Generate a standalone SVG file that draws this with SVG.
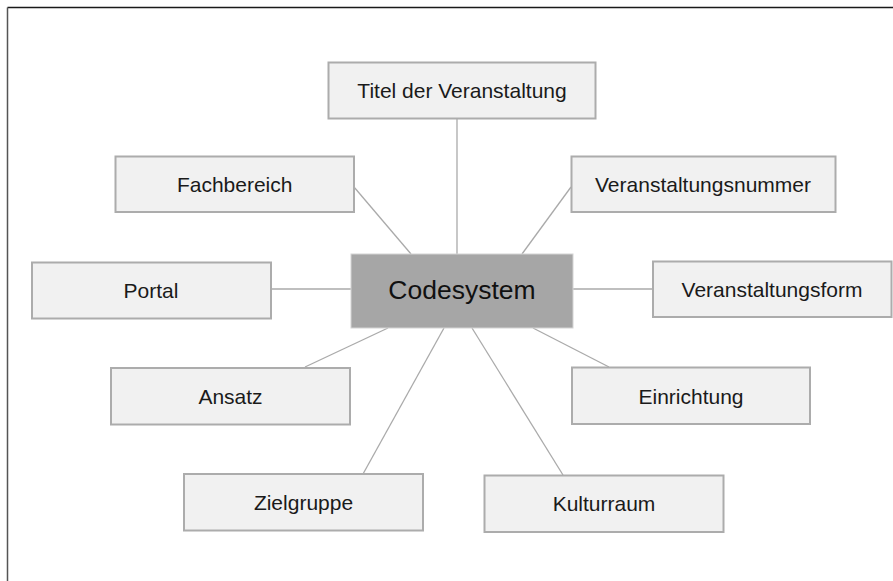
<svg xmlns="http://www.w3.org/2000/svg" width="893" height="581" viewBox="0 0 893 581">
<style>
.box{fill:#f1f1f1;stroke:#acacac;stroke-width:2}
.hub{fill:#a6a6a6;stroke:#d4d4d4;stroke-width:1}
.lbl{font-family:"Liberation Sans",Arial,sans-serif;font-size:21px;fill:#1a1a1a;text-anchor:middle}
.hubl{font-family:"Liberation Sans",Arial,sans-serif;font-size:26.5px;fill:#111;text-anchor:middle}
.con line{stroke:#aaaaaa;stroke-width:1.3}
</style>
<rect width="893" height="581" fill="#ffffff"/>
<line x1="7.5" y1="7.5" x2="893" y2="7.5" stroke="#1a1a1a" stroke-width="1.5"/>
<line x1="7.5" y1="7.5" x2="7.5" y2="581" stroke="#555555" stroke-width="1.5"/>
<g id="connectors" class="con">
<line x1="457" y1="118" x2="457" y2="254"/>
<line x1="354" y1="187" x2="411" y2="254"/>
<line x1="571" y1="187" x2="522" y2="254"/>
<line x1="271" y1="289" x2="351" y2="289"/>
<line x1="573" y1="289" x2="653" y2="289"/>
<line x1="388" y1="328" x2="305" y2="367"/>
<line x1="533" y1="328" x2="609" y2="367"/>
<line x1="444" y1="328" x2="363" y2="474"/>
<line x1="472" y1="328" x2="563" y2="475"/>
</g>
<g id="codesystem">
<rect class="hub" x="351" y="254" width="222" height="74"/>
<text class="hubl" x="462" y="299">Codesystem</text>
</g>
<g id="titel">
<rect class="box" x="328.5" y="62.5" width="267" height="56"/>
<text class="lbl" x="462" y="98">Titel der Veranstaltung</text>
</g>
<g id="fachbereich">
<rect class="box" x="115.5" y="156.5" width="238.5" height="55.5"/>
<text class="lbl" x="234.7" y="192">Fachbereich</text>
</g>
<g id="veranstaltungsnummer">
<rect class="box" x="571.5" y="156.5" width="264" height="55.5"/>
<text class="lbl" x="703" y="192">Veranstaltungsnummer</text>
</g>
<g id="portal">
<rect class="box" x="32" y="262.5" width="239" height="56"/>
<text class="lbl" x="151" y="298">Portal</text>
</g>
<g id="veranstaltungsform">
<rect class="box" x="653" y="261.5" width="238.5" height="55.5"/>
<text class="lbl" x="772" y="297">Veranstaltungsform</text>
</g>
<g id="ansatz">
<rect class="box" x="111" y="368" width="239" height="56.5"/>
<text class="lbl" x="230.5" y="404">Ansatz</text>
</g>
<g id="einrichtung">
<rect class="box" x="572" y="367.5" width="238" height="56.5"/>
<text class="lbl" x="691" y="403.5">Einrichtung</text>
</g>
<g id="zielgruppe">
<rect class="box" x="184" y="474" width="239" height="56.5"/>
<text class="lbl" x="303.5" y="510">Zielgruppe</text>
</g>
<g id="kulturraum">
<rect class="box" x="484.5" y="475.5" width="239" height="56.5"/>
<text class="lbl" x="604" y="511">Kulturraum</text>
</g>
</svg>
